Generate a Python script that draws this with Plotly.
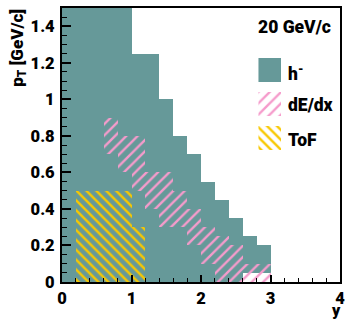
import plotly.graph_objects as go

# ---------------- data ----------------
BIN_W = 0.2
# h- acceptance: x-bin lower edges, lower and upper pT edge per bin
h_x_lo = [0.0, 0.2, 0.4, 0.6, 0.8, 1.0, 1.2, 1.4, 1.6, 1.8, 2.0, 2.2, 2.4, 2.6, 2.8]
h_pt_lo = [0, 0, 0, 0, 0, 0, 0, 0, 0, 0, 0, 0, 0, 0.05, 0.05]
h_pt_hi = [1.5, 1.5, 1.5, 1.5, 1.5, 1.25, 1.25, 1.0, 0.8, 0.7, 0.55, 0.45, 0.35, 0.25, 0.2]

# dE/dx acceptance
dedx_x_lo = [0.6, 0.8, 1.0, 1.2, 1.4, 1.6, 1.8, 2.0, 2.2, 2.4, 2.6, 2.8]
dedx_pt_lo = [0.7, 0.6, 0.5, 0.4, 0.3, 0.3, 0.2, 0.1, 0.0, 0.0, 0.0, 0.0]
dedx_pt_hi = [0.9, 0.8, 0.8, 0.6, 0.6, 0.5, 0.4, 0.3, 0.25, 0.2, 0.1, 0.1]

# ToF acceptance
tof_x_lo = [0.2, 0.4, 0.6, 0.8, 1.0]
tof_pt_lo = [0, 0, 0, 0, 0]
tof_pt_hi = [0.5, 0.5, 0.5, 0.5, 0.3]

x_tickvals = [0, 1, 2, 3, 4]
x_ticktext = ["0", "1", "2", "3", "4"]
y_tickvals = [0, 0.2, 0.4, 0.6, 0.8, 1.0, 1.2, 1.4]
y_ticktext = ["0", "0.2", "0.4", "0.6", "0.8", "1", "1.2", "1.4"]

legend_labels = ["h<sup>-</sup>", "dE/dx", "ToF"]
energy_label = "20 GeV/c"
x_title = "y"
y_title = "p<sub>T</sub> [GeV/c]"

TEAL = "#669999"
PINK = "#f59bcb"
YELLOW = "#f8c800"
FONT = "Roboto"

PINK_PAT = dict(shape="/", fgcolor=PINK, bgcolor="rgba(0,0,0,0)", fgopacity=1,
                size=8, solidity=0.3, fillmode="overlay")
YEL_PAT = dict(shape="\\", fgcolor=YELLOW, bgcolor="rgba(0,0,0,0)", fgopacity=1,
               size=7, solidity=0.34, fillmode="overlay")


def bar(xlo, lo, hi, **kw):
    return go.Bar(
        x=[v + BIN_W / 2 for v in xlo],
        y=[b - a for a, b in zip(lo, hi)],
        base=lo,
        width=BIN_W,
        showlegend=False,
        hoverinfo="skip",
        **kw,
    )


fig = go.Figure()
fig.add_trace(bar(h_x_lo, h_pt_lo, h_pt_hi, marker=dict(color=TEAL, line=dict(width=0))))
fig.add_trace(bar(dedx_x_lo, dedx_pt_lo, dedx_pt_hi,
                  marker=dict(color="rgba(0,0,0,0)", line=dict(width=0), pattern=PINK_PAT)))
fig.add_trace(bar(tof_x_lo, tof_pt_lo, tof_pt_hi,
                  marker=dict(color="rgba(0,0,0,0)", line=dict(width=0), pattern=YEL_PAT)))

# legend swatches on an inset axis
sw_base = [58, 92, 126]
sw_h = [24, 24, 24]
fig.add_trace(go.Bar(x=[0.5], y=[sw_h[0]], base=[sw_base[0]], width=1, xaxis="x2", yaxis="y2",
                     marker=dict(color=TEAL, line=dict(width=0)), showlegend=False, hoverinfo="skip"))
fig.add_trace(go.Bar(x=[0.5], y=[sw_h[1]], base=[sw_base[1]], width=1, xaxis="x2", yaxis="y2",
                     marker=dict(color="rgba(0,0,0,0)", line=dict(width=0), pattern=PINK_PAT),
                     showlegend=False, hoverinfo="skip"))
fig.add_trace(go.Bar(x=[0.5], y=[sw_h[2]], base=[sw_base[2]], width=1, xaxis="x2", yaxis="y2",
                     marker=dict(color="rgba(0,0,0,0)", line=dict(width=0), pattern=YEL_PAT),
                     showlegend=False, hoverinfo="skip"))

W, H = 349, 320
L, R, T, B = 62, 4, 8, 38
PW, PH = W - L - R, H - T - B


def px(xp):
    return (xp - L) / PW


def py(yp):
    return (H - B - yp) / PH


tickfont = dict(family=FONT, size=16.5, color="black", weight=900)

fig.update_layout(
    width=W, height=H,
    margin=dict(l=L, r=R, t=T, b=B, pad=0),
    paper_bgcolor="white", plot_bgcolor="white",
    barmode="overlay",
    bargap=0,
    xaxis=dict(range=[0, 4], tickmode="array", tickvals=x_tickvals, ticktext=x_ticktext,
               ticks="inside", ticklen=7, tickwidth=2,
               tickcolor="black", showline=True, linewidth=2, linecolor="black", mirror=True,
               showgrid=False, zeroline=False, tickfont=tickfont, ticklabelstandoff=0,
               minor=dict(dtick=0.2, tick0=0, ticks="inside", ticklen=4, tickwidth=1,
                          tickcolor="black", showgrid=False)),
    yaxis=dict(range=[0, 1.5], tickmode="array", tickvals=y_tickvals, ticktext=y_ticktext,
               ticks="inside", ticklen=9, tickwidth=2,
               tickcolor="black", showline=True, linewidth=2, linecolor="black", mirror=True,
               showgrid=False, zeroline=False, tickfont=tickfont, ticklabelstandoff=2,
               minor=dict(dtick=0.05, tick0=0, ticks="inside", ticklen=5, tickwidth=1,
                          tickcolor="black", showgrid=False)),
    xaxis2=dict(domain=[px(262), px(285)], range=[0, 1], visible=False, anchor="y2",
                fixedrange=True),
    yaxis2=dict(domain=[py(150), py(58)], range=[150, 58], visible=False, anchor="x2",
                fixedrange=True),
    showlegend=False,
)

lab_font = dict(family=FONT, size=17.5, color="black", weight=900)
title_font = dict(family=FONT, size=17, color="black", weight=900)
ann = [
    dict(text=energy_label, x=px(338), y=py(27), xanchor="right", yanchor="middle", font=lab_font),
    dict(text=legend_labels[0], x=px(290), y=py(73), xanchor="left", yanchor="middle", font=lab_font),
    dict(text=legend_labels[1], x=px(290), y=py(105), xanchor="left", yanchor="middle", font=lab_font),
    dict(text=legend_labels[2], x=px(290), y=py(140), xanchor="left", yanchor="middle", font=lab_font),
    dict(text=y_title, x=px(17), y=py(48), xanchor="center", yanchor="middle", textangle=-90,
         font=title_font),
    dict(text=x_title, x=px(341), y=py(310), xanchor="center", yanchor="middle",
         font=dict(family=FONT, size=16, color="black", weight=900)),
]
for a in ann:
    fig.add_annotation(xref="paper", yref="paper", showarrow=False, **a)

fig.write_html("out.html")
